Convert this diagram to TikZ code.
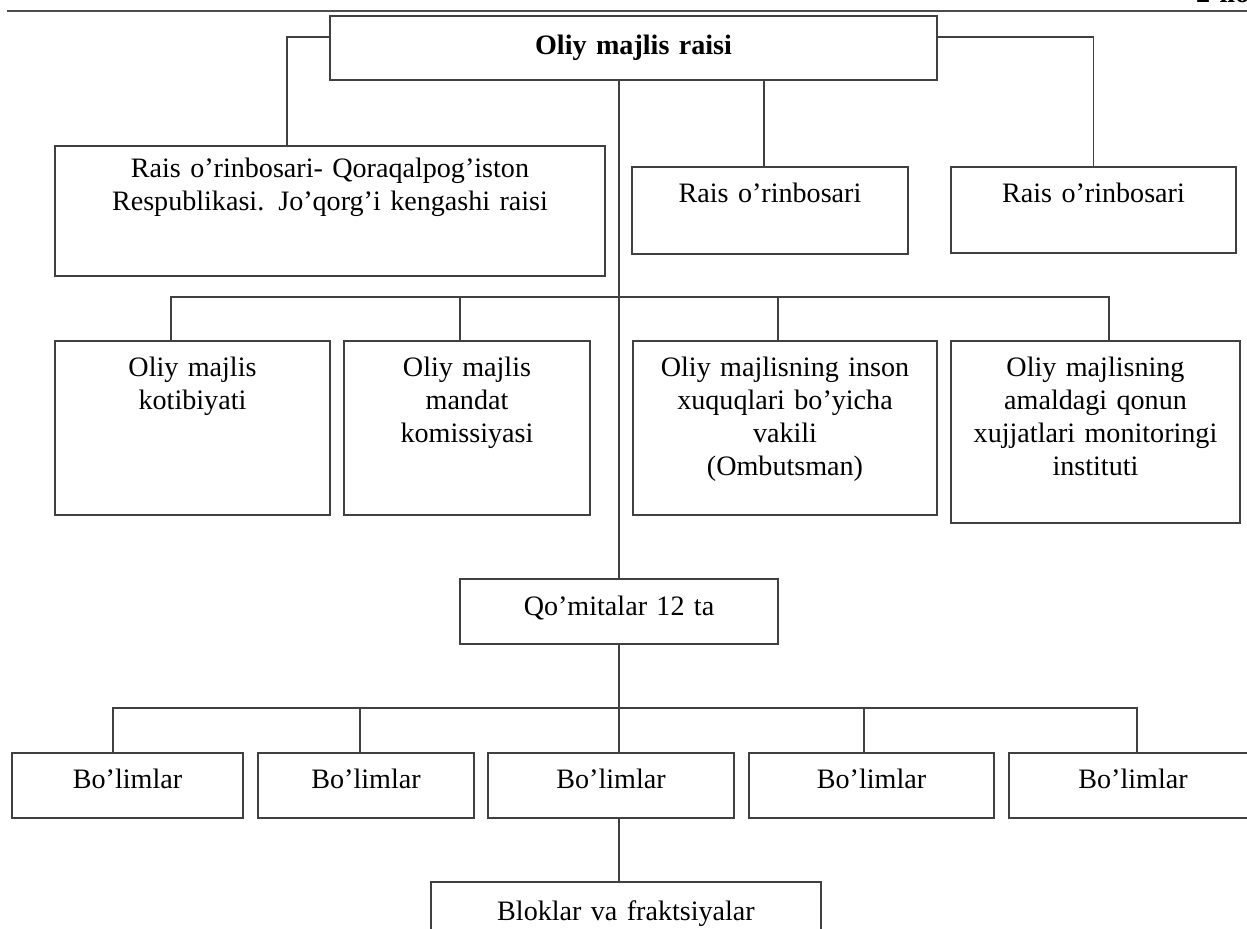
\documentclass[tikz,border=0pt]{standalone}
\usepackage{fontspec}
\setmainfont{Liberation Serif}
\begin{document}
\begin{tikzpicture}[x=0.02cm, y=-0.02cm,
    every node/.style={font=\fontsize{16}{18.7}\selectfont},
    box/.style={draw=black!75, line width=0.9pt, anchor=north, align=center, inner sep=0pt, text width=#1},
    link/.style={draw=black!75, line width=0.9pt}]

    \useasboundingbox (0,0) rectangle (1247,929);

    \draw[line width=1.1pt, black!70] (7,11) -- (1247,11);
    \node[anchor=base west, font=\bfseries\fontsize{16}{18.7}\selectfont] (page) at (1190,3) {2-ilova};

    \node[box=12.14cm, text height=0.78cm, text depth=0.5cm, font=\bfseries\fontsize{16}{18.7}\selectfont] (chair) at (633.5,15) {Oliy majlis raisi};

    \node[box=11cm, text height=0.64cm, text depth=1.96cm] (v1) at (330,145) {Rais o’rinbosari- Qoraqalpog’iston\\Respublikasi. Jo’qorg’i kengashi raisi};
    \node[box=5.52cm, text height=0.72cm, text depth=1.02cm] (v2) at (770,166) {Rais o’rinbosari};
    \node[box=5.7cm, text height=0.72cm, text depth=1cm] (v3) at (1093.5,166) {Rais o’rinbosari};

    \node[box=5.5cm, text height=0.72cm, text depth=2.76cm] (k1) at (192.5,340) {Oliy majlis\\kotibiyati};
    \node[box=4.92cm, text height=0.72cm, text depth=2.76cm] (k2) at (467,340) {Oliy majlis\\mandat\\komissiyasi};
    \node[box=6.08cm, text height=0.72cm, text depth=2.76cm] (k3) at (785,340) {Oliy majlisning inson\\xuquqlari bo’yicha\\vakili\\(Ombutsman)};
    \node[box=5.78cm, text height=0.72cm, text depth=2.92cm] (k4) at (1095.5,340) {Oliy majlisning\\amaldagi qonun\\xujjatlari monitoringi\\instituti};

    \node[box=6.36cm, text height=0.74cm, text depth=0.56cm] (comm) at (619,578) {Qo’mitalar 12 ta};

    \foreach \cx/\w/\n in {127.5/4.62/1, 366/4.32/2, 611/4.92/3, 871.5/4.9/4, 1133/4.96/5}
        \node[box=\w cm, text height=0.72cm, text depth=0.58cm] (b\n) at (\cx,752) {Bo’limlar};

    \node[box=7.8cm, text height=0.78cm, text depth=0.8cm] (blok) at (626,881) {Bloklar va fraktsiyalar};

    % rais va o'rinbosarlar
    \draw[link] ([yshift=0.22cm]chair.west) -| ([xshift=-0.86cm]v1.north);
    \draw[link] ([yshift=0.22cm]chair.east) -| (v3.north);
    \draw[link] ([xshift=-0.12cm]v2.north) -- ([xshift=-0.12cm]v2.north |- chair.south);
    \draw[link] (comm.north) -- (comm.north |- chair.south);

    \coordinate (bus1) at (619,297);
    \draw[link] ([xshift=-0.43cm]k1.north) |- (bus1) -| ([xshift=0.27cm]k4.north);
    \foreach \n in {2,3}
        \draw[link] ([xshift=-0.14cm]k\n.north) -- ([xshift=-0.14cm]k\n.north |- bus1);

    \coordinate (bus2) at (619,708);
    \draw[link] (comm.south) -- (bus2) -- (bus2 |- b3.north);
    \draw[link] ([xshift=-0.29cm]b1.north) |- (bus2) -| ([xshift=0.08cm]b5.north);
    \foreach \n/\s in {2/-0.12, 4/-0.15}
        \draw[link] ([xshift=\s cm]b\n.north) -- ([xshift=\s cm]b\n.north |- bus2);
    \draw[link] (b3.south -| bus2) -- (blok.north -| bus2);

\end{tikzpicture}
\end{document}
